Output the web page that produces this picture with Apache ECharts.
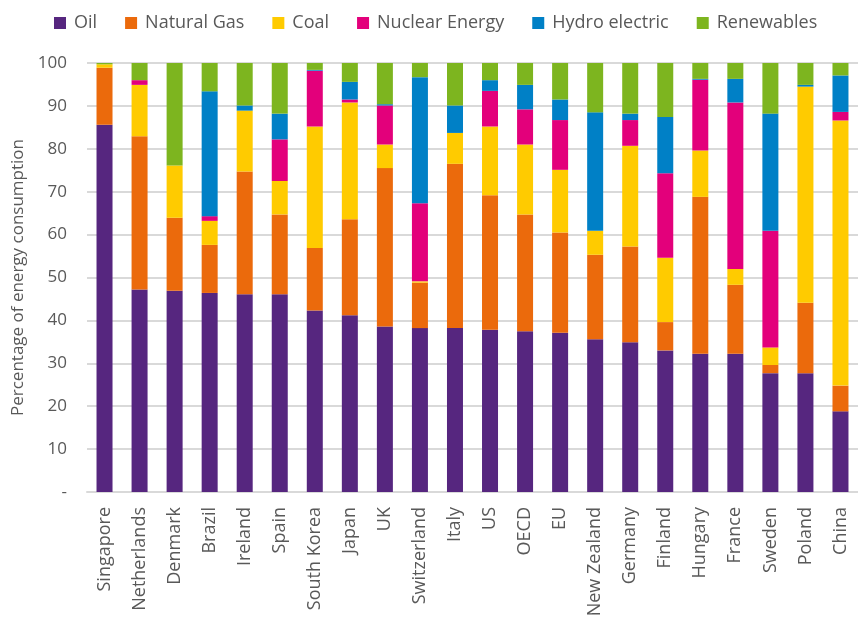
<!DOCTYPE html>
<html>
<head>
<meta charset="utf-8">
<script src="https://cdn.jsdelivr.net/npm/echarts@6/dist/echarts.min.js"></script>
<style>
html,body{margin:0;padding:0;background:#fff;}
#chart{width:858px;height:625px;}
</style>
</head>
<body>
<div id="chart"></div>
<script>
const categories = ["Singapore","Netherlands","Denmark","Brazil","Ireland","Spain","South Korea","Japan","UK","Switzerland","Italy","US","OECD","EU","New Zealand","Germany","Finland","Hungary","France","Sweden","Poland","China"];
const oil        = [85.6,47.2,46.9,46.4,46.1,46.1,42.3,41.2,38.6,38.2,38.2,37.8,37.5,37.1,35.6,34.9,33.0,32.2,32.2,27.7,27.7,18.8];
const naturalGas = [13.3,35.7,17.0,11.2,28.6,18.6,14.6,22.4,36.9,10.6,38.3,31.4,27.2,23.4,19.7,22.3,6.6,36.6,16.1,1.9,16.4,6.0];
const coal       = [0.8,12.0,12.2,5.6,14.2,7.8,28.3,27.2,5.5,0.3,7.2,16.0,16.3,14.6,5.6,23.5,15.0,10.8,3.7,4.1,50.4,61.8];
const nuclear    = [0,1.1,0,1.1,0,9.7,13.0,0.7,9.1,18.2,0,8.3,8.2,11.6,0,6.0,19.7,16.5,38.8,27.2,0,2.0];
const hydro      = [0,0,0,29.1,1.2,6.0,0.2,4.1,0.3,29.4,6.4,2.5,5.7,4.8,27.6,1.5,13.1,0.2,5.5,27.3,0.4,8.5];
const renewables = [0.3,4.0,23.9,6.6,9.9,11.8,1.6,4.4,9.6,3.3,9.9,4.0,5.1,8.5,11.5,11.8,12.6,3.7,3.7,11.8,5.1,2.9];
const seriesNames = ["Oil","Natural Gas","Coal","Nuclear Energy","Hydro electric","Renewables"];
const seriesData = [oil, naturalGas, coal, nuclear, hydro, renewables];
const colors = ["#56267F","#EB6A0C","#FFCB00","#E3007B","#0080C6","#7DB51F"];
const yTicks = {min:0, max:100, interval:10};

const chart = echarts.init(document.getElementById('chart'), null, {renderer:'canvas'});
const font = '"Open Sans", sans-serif';
const option = {
  animation: false,
  color: colors,
  textStyle: {fontFamily: font, color: '#595959'},
  legend: {
    top: 9,
    left: 49,
    icon: 'rect',
    itemWidth: 12,
    itemHeight: 12,
    itemGap: 28,
    textStyle: {fontFamily: font, fontSize: 18, color: '#595959', padding:[0,0,0,3]},
    data: seriesNames
  },
  grid: {left: 87, width: 780, top: 63, bottom: 133},
  xAxis: {
    type: 'category',
    data: categories,
    axisTick: {show: false},
    axisLine: {lineStyle: {color: '#d9d9d9', width: 2}},
    axisLabel: {rotate: 90, fontSize: 18, color: '#595959', margin: 15, fontFamily: font, interval: 0}
  },
  yAxis: {
    type: 'value',
    min: yTicks.min, max: yTicks.max, interval: yTicks.interval,
    name: 'Percentage of energy consumption',
    nameLocation: 'middle',
    nameGap: 58,
    nameTextStyle: {fontSize: 17, color: '#595959', fontFamily: font},
    axisLine: {show: false},
    axisTick: {show: false},
    splitLine: {lineStyle: {color: '#d9d9d9', width: 2}},
    axisLabel: {fontSize: 17, color: '#595959', margin: 20, fontFamily: font,
      formatter: v => v === 0 ? '-' : String(v)}
  },
  series: seriesNames.map((n, i) => ({
    name: n,
    type: 'bar',
    stack: 'total',
    barWidth: 16,
    data: seriesData[i],
    itemStyle: {color: colors[i]}
  }))
};
chart.setOption(option);
</script>
</body>
</html>
